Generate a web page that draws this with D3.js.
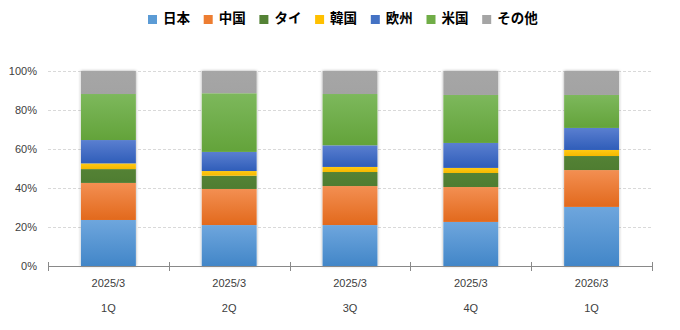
<!DOCTYPE html>
<html>
<head>
<meta charset="utf-8">
<script src="https://cdn.jsdelivr.net/npm/d3@7"></script>
<style>
  body { margin: 0; background: #fff; }
  svg text { font-family: "Liberation Sans", "Noto Sans CJK JP", sans-serif; }
</style>
</head>
<body>
<div id="chart"></div>
<script>
// 地域別構成比（%）
var periods = ['2025/3', '2025/3', '2025/3', '2025/3', '2026/3']
var quarters = ['1Q', '2Q', '3Q', '4Q', '1Q']
var regions = ['日本', '中国', 'タイ', '韓国', '欧州', '米国', 'その他']

var japan = [23.6, 21.0, 21.0, 22.6, 30.3]
var china = [19.0, 18.5, 20.0, 17.9, 18.9]
var thai = [7.1, 6.8, 7.2, 7.2, 7.2]
var korea = [2.9, 2.4, 2.6, 2.6, 3.1]
var europe = [12.0, 9.8, 11.1, 12.8, 11.3]
var usa = [23.6, 30.1, 26.3, 24.6, 16.9]
var others = [11.8, 11.4, 11.8, 12.3, 12.3]

var yTicks = [0, 20, 40, 60, 80, 100]

var seriesValues = [japan, china, thai, korea, europe, usa, others]
// [上側, 下側] のグラデーション色
var colors = [
    ['#6ea6dd', '#4286c8'],
    ['#f38f52', '#e2691c'],
    ['#548235', '#4f7d31'],
    ['#ffc914', '#f5b800'],
    ['#5a7fd0', '#2f5db9'],
    ['#7db85c', '#63a33a'],
    ['#a6a6a6', '#a3a3a3']
]
var legendColors = ['#5b9bd5', '#ed7d31', '#548235', '#ffc000', '#4472c4', '#70ad47', '#a5a5a5']

var width = 680, height = 330
var margin = {left: 48, right: 28, top: 71, bottom: 64}

var svg = d3.select('#chart').append('svg')
    .attr('width', width).attr('height', height)

var defs = svg.append('defs')
colors.forEach(function (c, i) {
    var g = defs.append('linearGradient').attr('id', 'grad' + i)
        .attr('x1', 0).attr('y1', 0).attr('x2', 0).attr('y2', 1)
    g.append('stop').attr('offset', '0%').attr('stop-color', c[0])
    g.append('stop').attr('offset', '100%').attr('stop-color', c[1])
})
defs.append('filter').attr('id', 'shadow')
    .attr('x', '-20%').attr('y', '-5%').attr('width', '140%').attr('height', '110%')
    .append('feDropShadow')
    .attr('dx', 0).attr('dy', 0).attr('stdDeviation', 1.6)
    .attr('flood-color', '#000').attr('flood-opacity', 0.35)

var x = d3.scaleBand()
    .domain(d3.range(periods.length))
    .range([margin.left, width - margin.right])
    .paddingInner(0.545).paddingOuter(0.2725)

var y = d3.scaleLinear().domain([0, 100]).range([height - margin.bottom, margin.top])

// グリッド線
svg.append('g').selectAll('line').data(yTicks.slice(1)).enter().append('line')
    .attr('x1', margin.left).attr('x2', width - margin.right)
    .attr('y1', function (d) { return y(d) + 0.5 }).attr('y2', function (d) { return y(d) + 0.5 })
    .attr('stroke', '#d9d9d9').attr('stroke-dasharray', '3,2')

// Y軸ラベル
svg.append('g').selectAll('text').data(yTicks).enter().append('text')
    .attr('x', 37).attr('y', function (d) { return y(d) })
    .attr('dy', '0.35em').attr('text-anchor', 'end')
    .attr('font-size', '11px').attr('fill', '#404040')
    .text(function (d) { return d + '%' })

// 積み上げデータ
var table = periods.map(function (p, i) {
    var row = {i: i}
    regions.forEach(function (r, k) { row[r] = seriesValues[k][i] })
    return row
})
var stacked = d3.stack().keys(regions)(table)

var bars = svg.append('g')
bars.selectAll('rect.bg').data(table).enter().append('rect')
    .attr('x', function (d) { return x(d.i) })
    .attr('width', x.bandwidth())
    .attr('y', function (d) { return y(d3.sum(regions, function (r) { return d[r] })) })
    .attr('height', function (d) { return y(0) - y(d3.sum(regions, function (r) { return d[r] })) })
    .attr('fill', '#fff').attr('filter', 'url(#shadow)')

stacked.forEach(function (layer, k) {
    bars.append('g').selectAll('rect').data(layer).enter().append('rect')
        .attr('x', function (d, i) { return x(i) })
        .attr('width', x.bandwidth())
        .attr('y', function (d) { return y(d[1]) })
        .attr('height', function (d) { return y(d[0]) - y(d[1]) })
        .attr('fill', 'url(#grad' + k + ')')
})

// X軸
var axisY = y(0) + 0.5
var xAxis = svg.append('g')
xAxis.append('line')
    .attr('x1', margin.left).attr('x2', width - margin.right)
    .attr('y1', axisY).attr('y2', axisY)
    .attr('stroke', '#898989')
var bounds = d3.range(periods.length + 1).map(function (i) {
    return margin.left + i * x.step()
})
xAxis.selectAll('line.tick').data(bounds).enter().append('line')
    .attr('x1', function (d) { return Math.round(d) + 0.5 })
    .attr('x2', function (d) { return Math.round(d) + 0.5 })
    .attr('y1', axisY - 4.5).attr('y2', axisY + 4.5)
    .attr('stroke', '#898989')

xAxis.selectAll('text.p').data(periods).enter().append('text')
    .attr('x', function (d, i) { return x(i) + x.bandwidth() / 2 })
    .attr('y', 283).attr('dy', '0.35em').attr('text-anchor', 'middle')
    .attr('font-size', '11px').attr('fill', '#404040')
    .text(function (d) { return d })
xAxis.selectAll('text.q').data(quarters).enter().append('text')
    .attr('x', function (d, i) { return x(i) + x.bandwidth() / 2 })
    .attr('y', 308).attr('dy', '0.35em').attr('text-anchor', 'middle')
    .attr('font-size', '11px').attr('fill', '#404040')
    .text(function (d) { return d })

// 凡例
var legend = svg.append('g').selectAll('g').data(regions).enter().append('g')
    .attr('transform', function (d, i) { return 'translate(' + (148 + i * 55.7) + ',0)' })
legend.append('rect')
    .attr('x', 0).attr('y', 15).attr('width', 9).attr('height', 9)
    .attr('fill', function (d, i) { return legendColors[i] })
legend.append('text')
    .attr('x', 15).attr('y', 18).attr('dy', '0.35em')
    .attr('font-size', '13.5px').attr('font-weight', 'bold').attr('fill', '#000')
    .style('font-family', '"Noto Sans CJK JP", sans-serif')
    .text(function (d) { return d })
</script>
</body>
</html>
